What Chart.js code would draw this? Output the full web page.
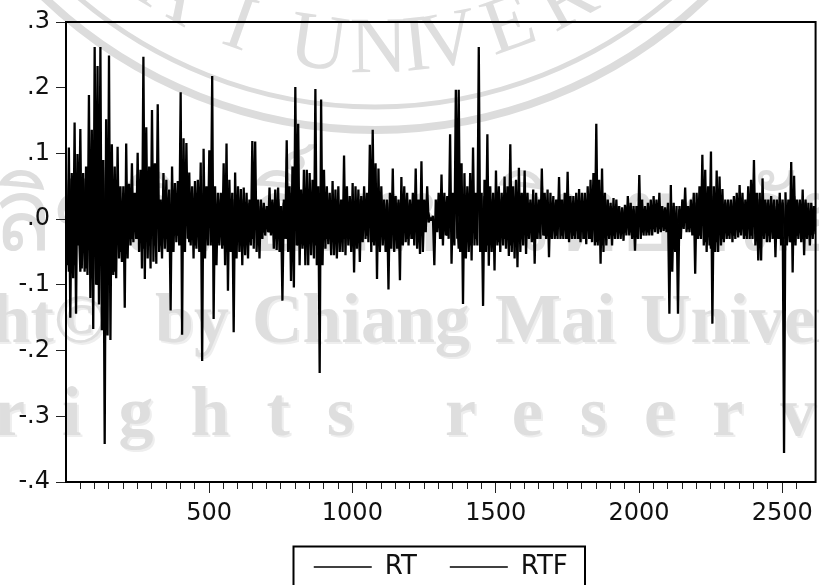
<!DOCTYPE html>
<html>
<head>
<meta charset="utf-8">
<style>
html, body { margin: 0; padding: 0; background: #fff; overflow: hidden; }
#wrap { width: 819px; height: 585px; }
</style>
<script src="https://cdn.jsdelivr.net/npm/chart.js@4"></script>
</head>
<body>
<div id="wrap"><canvas id="chart" width="819" height="585"></canvas></div>
<script>
// observation numbers, one row per 100
const obs = [
1,11,21,31,41,51,61,71,81,91,
101,111,121,131,141,151,161,171,181,191,
201,211,221,231,241,251,261,271,281,291,
301,311,321,331,341,351,361,371,381,391,
401,411,421,431,441,451,461,471,481,491,
501,511,521,531,541,551,561,571,581,591,
601,611,621,631,641,651,661,671,681,691,
701,711,721,731,741,751,761,771,781,791,
801,811,821,831,841,851,861,871,881,891,
901,911,921,931,941,951,961,971,981,991,
1001,1011,1021,1031,1041,1051,1061,1071,1081,1091,
1101,1111,1121,1131,1141,1151,1161,1171,1181,1191,
1201,1211,1221,1231,1241,1251,1261,1271,1281,1291,
1301,1311,1321,1331,1341,1351,1361,1371,1381,1391,
1401,1411,1421,1431,1441,1451,1461,1471,1481,1491,
1501,1511,1521,1531,1541,1551,1561,1571,1581,1591,
1601,1611,1621,1631,1641,1651,1661,1671,1681,1691,
1701,1711,1721,1731,1741,1751,1761,1771,1781,1791,
1801,1811,1821,1831,1841,1851,1861,1871,1881,1891,
1901,1911,1921,1931,1941,1951,1961,1971,1981,1991,
2001,2011,2021,2031,2041,2051,2061,2071,2081,2091,
2101,2111,2121,2131,2141,2151,2161,2171,2181,2191,
2201,2211,2221,2231,2241,2251,2261,2271,2281,2291,
2301,2311,2321,2331,2341,2351,2361,2371,2381,2391,
2401,2411,2421,2431,2441,2451,2461,2471,2481,2491,
2501,2511,2521,2531,2541,2551,2561,2571,2581,2591,2601,2611
];

// RT tops, read at each obs
const rtHigh = [
.024,.109,.062,.147,.099,.137,.062,.08,.189,.136,
.262,.233,.262,.09,.152,.249,.114,.08,.11,.05,
.05,.115,.054,.085,.04,.101,.075,.247,.14,.08,
.166,.085,.175,.03,.07,.06,.045,.08,.055,.058,
.193,.123,.116,.071,.05,.058,.06,.086,.107,.05,
.105,.218,.05,.04,.04,.085,.115,.06,.04,.071,
.05,.046,.048,.04,.03,.119,.118,.03,.03,.025,
.02,.048,.03,.045,.048,.02,.03,.12,.05,.08,
.201,.145,.045,.075,.075,.07,.06,.198,.05,.182,
.075,.05,.04,.058,.045,.05,.03,.097,.05,.035,
.055,.05,.045,.035,.05,.04,.113,.136,.085,.077,
.05,.03,.03,.04,.077,.035,.03,.064,.05,.04,
.03,.04,.077,.03,.088,.03,.05,.002,.005,.03,
.04,.068,.04,.035,.129,.04,.197,.197,.085,.07,
.05,.07,.109,.04,.262,.04,.06,.129,.05,.04,
.074,.05,.04,.065,.05,.114,.05,.06,.078,.04,
.074,.04,.03,.045,.04,.03,.077,.04,.045,.04,
.035,.03,.064,.03,.04,.072,.035,.035,.04,.046,
.04,.04,.05,.06,.07,.145,.06,.077,.04,.03,
.025,.032,.03,.02,.018,.022,.035,.025,.02,.02,
.067,.03,.02,.025,.03,.035,.03,.04,.02,.018,
.025,.052,.025,.02,.02,.03,.048,.02,.03,.04,
.04,.05,.098,.075,.05,.103,.05,.074,.065,.046,
.03,.03,.03,.035,.04,.052,.04,.03,.05,.06,
.09,.04,.04,.062,.03,.03,.035,.03,.03,.04,
.03,.041,.03,.087,.066,.03,.03,.045,.03,.025,.025,.02
];

// RT bottoms, read 5 obs after each top
const rtLow = [
-.07,-.15,-.09,-.144,-.04,-.075,-.08,-.085,-.12,-.167,
-.10,-.13,-.169,-.342,-.177,-.184,-.085,-.09,-.06,-.065,
-.135,-.06,-.04,-.035,-.03,-.05,-.075,-.091,-.06,-.075,
-.065,-.068,-.05,-.06,-.045,-.05,-.139,-.05,-.035,-.04,
-.176,-.05,-.03,-.04,-.06,-.045,-.05,-.216,-.06,-.04,
-.04,-.152,-.07,-.04,-.045,-.07,-.109,-.05,-.172,-.06,
-.05,-.07,-.055,-.06,-.04,-.045,-.05,-.06,-.03,-.025,
-.02,-.025,-.045,-.047,-.05,-.124,-.03,-.05,-.094,-.104,
-.04,-.07,-.045,-.07,-.07,-.055,-.06,-.07,-.234,-.07,
-.045,-.038,-.055,-.055,-.06,-.05,-.05,-.055,-.04,-.05,
-.081,-.045,-.065,-.035,-.03,-.035,-.05,-.04,-.091,-.05,
-.04,-.05,-.107,-.045,-.05,-.045,-.093,-.04,-.035,-.04,
-.03,-.04,-.045,-.053,-.05,-.02,-.005,-.002,-.07,-.02,
-.03,-.04,-.025,-.03,-.068,-.04,-.03,-.05,-.129,-.06,
-.05,-.063,-.04,-.04,-.05,-.132,-.05,-.071,-.05,-.078,
-.04,-.05,-.04,-.045,-.056,-.05,-.06,-.073,-.05,-.04,
-.053,-.03,-.035,-.068,-.03,-.03,-.025,-.03,-.058,-.03,
-.03,-.03,-.03,-.03,-.03,-.035,-.03,-.03,-.03,-.035,
-.03,-.038,-.03,-.035,-.04,-.04,-.068,-.05,-.04,-.03,
-.04,-.03,-.03,-.03,-.033,-.025,-.025,-.03,-.048,-.03,
-.03,-.025,-.025,-.025,-.025,-.02,-.022,-.02,-.018,-.02,
-.144,-.08,-.05,-.144,-.03,-.015,-.02,-.02,-.025,-.083,
-.03,-.03,-.04,-.05,-.04,-.159,-.05,-.05,-.04,-.035,
-.03,-.03,-.035,-.03,-.028,-.025,-.03,-.03,-.03,-.03,
-.04,-.063,-.063,-.03,-.035,-.035,-.03,-.058,-.03,-.04,
-.356,-.04,-.035,-.081,-.04,-.03,-.035,-.055,-.03,-.04,-.03,-.023
];

// RTF sits inside the RT band, both drawn black
const rtf = [
.06,-.08,.07,-.07,.06,-.08,.07,-.075,.08,-.09,
.1,-.1,.09,-.1,.08,-.09,.07,-.08,.05,-.05,
.04,-.045,.035,-.03,.03,-.03,.035,-.045,.04,-.04,
.035,-.04,.03,-.04,.03,-.03,.025,-.035,.03,-.025,
.04,-.03,.04,-.035,.03,-.04,.03,-.04,.04,-.03,
.035,-.035,.025,-.03,.03,-.04,.035,-.04,.03,-.035,
.03,-.04,.03,-.035,.025,-.03,.03,-.03,.02,-.02,
.015,-.02,.025,-.03,.03,-.03,.025,-.03,.04,-.045,
.05,-.04,.03,-.04,.045,-.035,.04,-.04,.035,-.04,
.035,-.03,.025,-.035,.03,-.035,.025,-.03,.025,-.03,
.03,-.03,.03,-.025,.03,-.025,.04,-.035,.035,-.03,
.03,-.03,.025,-.03,.03,-.03,.025,-.03,.025,-.03,
.025,-.03,.03,-.035,.03,-.015,.015,-.001,.001,-.015,
.03,-.03,.025,-.025,.04,-.03,.05,-.045,.05,-.045,
.04,-.04,.04,-.03,.05,-.04,.035,-.04,.03,-.03,
.03,-.035,.03,-.03,.04,-.04,.035,-.04,.035,-.03,
.03,-.025,.025,-.03,.025,-.02,.03,-.025,.025,-.025,
.025,-.025,.03,-.025,.03,-.03,.025,-.025,.025,-.03,
.025,-.03,.03,-.03,.035,-.035,.04,-.04,.03,-.025,
.02,-.025,.02,-.02,.015,-.02,.02,-.02,.015,-.02,
.02,-.02,.015,-.02,.02,-.015,.02,-.015,.015,-.015,
.015,-.025,.02,-.02,.015,-.012,.02,-.015,.02,-.02,
.025,-.025,.04,-.035,.03,-.045,.035,-.035,.035,-.03,
.025,-.025,.025,-.025,.03,-.02,.025,-.025,.03,-.025,
.035,-.03,.03,-.025,.025,-.025,.025,-.025,.02,-.03,
.025,-.03,.025,-.035,.035,-.025,.025,-.03,.025,-.02,.02,-.015
];

const yTicks = [-.4, -.3, -.2, -.1, 0, .1, .2, .3];
const yTickLabels = ['-.4', '-.3', '-.2', '-.1', '.0', '.1', '.2', '.3'];

const rtPoints = [];
obs.forEach(function (o, i) {
    rtPoints.push({ x: o, y: rtHigh[i] });
    rtPoints.push({ x: o + 5, y: rtLow[i] });
});
const rtfPoints = obs.map((o, i) => ({ x: o, y: rtf[i] }));

const labelFont = { family: '"DejaVu Sans"', size: 24 };

// library watermark behind the chart
const watermark = {
    id: 'watermark',
    beforeDraw(chart) {
        const ctx = chart.ctx;
        ctx.save();
        ctx.fillStyle = '#fff';
        ctx.fillRect(0, 0, chart.width, chart.height);
        ctx.strokeStyle = '#dcdcdc';
        ctx.lineWidth = 5;
        ctx.beginPath();
        ctx.arc(375, -349, 456, 0, Math.PI);
        ctx.stroke();
        ctx.lineWidth = 8;
        ctx.beginPath();
        ctx.arc(375, -349, 479, 0, Math.PI);
        ctx.stroke();

        ctx.fillStyle = '#dedede';
        ctx.textBaseline = 'alphabetic';
        ctx.textAlign = 'center';
        ctx.font = '80px "Liberation Serif"';
        [['A', 160], ['I', 232], ['U', 315], ['N', 379], ['I', 419], ['V', 453], ['E', 517], ['R', 578]].forEach(function (p) {
            const a = Math.asin((p[1] - 375) / 421);
            ctx.save();
            ctx.translate(375 + 421 * Math.sin(a), -349 + 421 * Math.cos(a));
            ctx.rotate(-a);
            ctx.fillText(p[0], 0, 0);
            ctx.restore();
        });

        ctx.font = '100px "Liberation Serif"';
        ctx.textAlign = 'left';
        ctx.fillText('ลิขสิทธิ์มหาวิทยาลัยเชียงใหม่', -8, 250);

        ctx.shadowColor = '#eeeeee';
        ctx.shadowOffsetX = 2;
        ctx.shadowOffsetY = 2;
        ctx.font = 'bold 70px "Liberation Serif"';
        ctx.textAlign = 'right';
        ctx.fillText('Copyright©', 106, 342);
        ctx.textAlign = 'left';
        ctx.fillText('by', 155, 342);
        ctx.fillText('Chiang', 252, 342);
        ctx.fillText('Mai', 495, 342);
        ctx.fillText('University', 640, 342);

        ctx.letterSpacing = '37px';
        ctx.fillText('rights', -6, 435);
        ctx.fillText('reserved', 445, 435);
        ctx.letterSpacing = '0px';
        ctx.restore();
    }
};

// plot frame and legend box
const frames = {
    id: 'frames',
    afterDraw(chart) {
        const ctx = chart.ctx, a = chart.chartArea;
        ctx.save();
        ctx.strokeStyle = '#000';
        ctx.lineWidth = 2;
        ctx.strokeRect(a.left, a.top, a.right - a.left, a.bottom - a.top);
        ctx.strokeRect(293.5, 546.5, 291.5, 60);
        ctx.restore();
    }
};

new Chart(document.getElementById('chart').getContext('2d'), {
    type: 'line',
    data: {
        datasets: [
            { label: 'RT', data: rtPoints, borderColor: '#000', borderWidth: 2.3, borderJoinStyle: 'bevel', pointRadius: 0, tension: 0 },
            { label: 'RTF', data: rtfPoints, borderColor: '#000', borderWidth: 2.3, borderJoinStyle: 'bevel', pointRadius: 0, tension: 0 }
        ]
    },
    options: {
        responsive: false,
        animation: false,
        layout: { padding: { top: 22, right: 3, bottom: -5, left: 0 } },
        scales: {
            x: {
                type: 'linear',
                position: 'bottom',
                min: 1,
                max: 2616,
                afterBuildTicks(scale) {
                    scale.ticks = [500, 1000, 1500, 2000, 2500].map(v => ({ value: v }));
                },
                afterFit(scale) { scale.height = 39; },
                ticks: { color: '#111', font: labelFont, maxRotation: 0, autoSkip: false, padding: 6, callback: v => String(v) },
                grid: { drawOnChartArea: false, tickLength: 11, tickColor: '#222', tickWidth: 1 },
                border: { display: false }
            },
            xMinor: {
                axis: 'x',
                type: 'linear',
                position: { y: -.4 },
                min: 1,
                max: 2616,
                ticks: { stepSize: 50, display: false, autoSkip: false },
                afterBuildTicks(scale) {
                    scale.ticks = scale.ticks.filter(t => t.value % 50 === 0);
                },
                grid: { drawOnChartArea: false, tickLength: 7, tickColor: '#222', tickWidth: 1 },
                border: { display: false }
            },
            y: {
                min: -.4,
                max: .3,
                afterBuildTicks(scale) {
                    scale.ticks = yTicks.map(v => ({ value: v }));
                },
                afterFit(scale) { scale.width = 66; },
                ticks: {
                    color: '#111',
                    font: labelFont,
                    padding: 6,
                    autoSkip: false,
                    callback: function (v) { return yTickLabels[yTicks.findIndex(t => Math.abs(t - v) < 1e-6)]; }
                },
                grid: { drawOnChartArea: false, tickLength: 10, tickColor: '#222', tickWidth: 1 },
                border: { display: false }
            }
        },
        plugins: {
            tooltip: { enabled: false },
            legend: {
                position: 'bottom',
                fullSize: false,
                labels: {
                    color: '#111',
                    font: { family: '"DejaVu Sans"', size: 26 },
                    usePointStyle: true,
                    pointStyle: 'line',
                    pointStyleWidth: 58,
                    padding: 33,
                    generateLabels(chart) {
                        const items = Chart.defaults.plugins.legend.labels.generateLabels(chart);
                        items.forEach(item => { item.lineWidth = 1.5; item.pointStyle = 'line'; });
                        return items;
                    }
                }
            }
        }
    },
    plugins: [watermark, frames]
});
</script>
</body>
</html>
